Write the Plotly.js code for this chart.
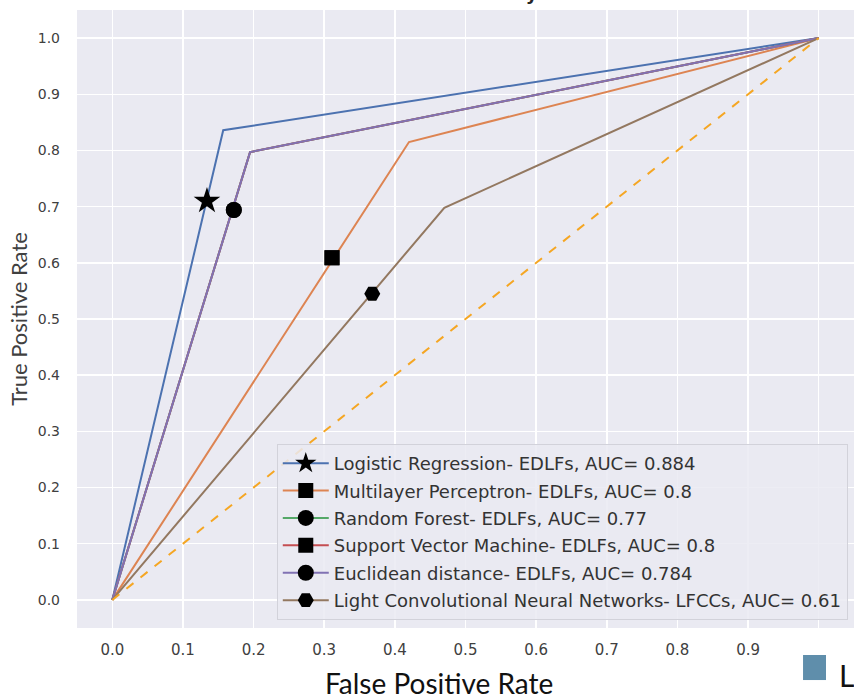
<!DOCTYPE html>
<html>
<head>
<meta charset="utf-8">
<script src="https://cdn.plot.ly/plotly-3.0.1.min.js"></script>
<style>html,body{margin:0;padding:0;background:#fff;}#chart{width:854px;height:698px;}</style>
</head>
<body>
<div id="chart"></div>
<script>
// ROC curve points (FPR, TPR)
const fprLR = [0, 0.157, 1];
const tprLR = [0, 0.836, 1];
const fprMLP = [0, 0.42, 1];
const tprMLP = [0, 0.815, 1];
const fprRF = [0, 0.195, 1];
const tprRF = [0, 0.797, 1];
const fprSVM = [0, 0.195, 1];
const tprSVM = [0, 0.797, 1];
const fprED = [0, 0.195, 1];
const tprED = [0, 0.797, 1];
const fprLCNN = [0, 0.47, 1];
const tprLCNN = [0, 0.698, 1];
const chanceX = [0, 1];
const chanceY = [0, 1];

// operating-point markers
const opX = [0.134, 0.311, 0.172, 0.311, 0.172, 0.368];
const opY = [0.710, 0.609, 0.694, 0.609, 0.694, 0.545];

const names = [
  "Logistic Regression- EDLFs, AUC= 0.884",
  "Multilayer Perceptron- EDLFs, AUC= 0.8",
  "Random Forest- EDLFs, AUC= 0.77",
  "Support Vector Machine- EDLFs, AUC= 0.8",
  "Euclidean distance- EDLFs, AUC= 0.784",
  "Light Convolutional Neural Networks- LFCCs, AUC= 0.61"
];

const xTickVals = [0, 0.1, 0.2, 0.3, 0.4, 0.5, 0.6, 0.7, 0.8, 0.9, 1.0];
const xTickText = ["0.0", "0.1", "0.2", "0.3", "0.4", "0.5", "0.6", "0.7", "0.8", "0.9", ""];
const yTickVals = [0, 0.1, 0.2, 0.3, 0.4, 0.5, 0.6, 0.7, 0.8, 0.9, 1.0];
const yTickText = ["0.0", "0.1", "0.2", "0.3", "0.4", "0.5", "0.6", "0.7", "0.8", "0.9", "1.0"];

const colors = ["#4c72b0", "#dd8452", "#55a868", "#c44e52", "#8172b3", "#937860"];
const symbols = ["star", "square", "circle", "square", "circle", "hexagon2"];
const sizes = [20, 15, 16, 15, 16, 16];
const curvesX = [fprLR, fprMLP, fprRF, fprSVM, fprED, fprLCNN];
const curvesY = [tprLR, tprMLP, tprRF, tprSVM, tprED, tprLCNN];

const traces = [];
for (let i = 0; i < 6; i++) {
  traces.push({
    x: curvesX[i], y: curvesY[i], type: "scatter", mode: "lines",
    line: {color: colors[i], width: 2}, showlegend: false, hoverinfo: "skip",
    legendgroup: "g" + i
  });
}
traces.push({
  x: chanceX, y: chanceY, type: "scatter", mode: "lines",
  line: {color: "#f5a623", width: 2, dash: "dash"}, showlegend: false
});
for (let i = 0; i < 6; i++) {
  traces.push({
    x: [opX[i]], y: [opY[i]], type: "scatter", mode: "lines+markers",
    name: names[i], legendgroup: "g" + i,
    line: {color: colors[i], width: 2},
    marker: {symbol: symbols[i], size: sizes[i], color: "#000000", line: {width: 0}}
  });
}

const layout = {
  width: 854, height: 698,
  margin: {l: 77, r: 0, t: 10, b: 70},
  paper_bgcolor: "#ffffff",
  plot_bgcolor: "#eaeaf2",
  font: {family: "DejaVu Sans", color: "#262626"},
  showlegend: true,
  legend: {
    x: 0.992, xanchor: "right", y: 0.013, yanchor: "bottom",
    bgcolor: "rgba(234,234,242,0.85)", bordercolor: "#d2d2da", borderwidth: 1,
    font: {family: "DejaVu Sans", size: 18, color: "#333333"},
    traceorder: "grouped", tracegroupgap: 1, itemwidth: 46
  },
  xaxis: {
    range: [-0.05, 1.05], tickvals: xTickVals, ticktext: xTickText,
    showgrid: true, gridcolor: "#ffffff", gridwidth: 1.5, zeroline: false,
    showline: false, ticks: "", ticklabelstandoff: 11,
    tickfont: {family: "DejaVu Sans", size: 15, color: "#404040"}
  },
  yaxis: {
    range: [-0.05, 1.05], tickvals: yTickVals, ticktext: yTickText,
    showgrid: true, gridcolor: "#ffffff", gridwidth: 1.5, zeroline: false,
    showline: false, ticks: "", ticklabelstandoff: 16,
    tickfont: {family: "DejaVu Sans", size: 14, color: "#404040"},
    title: {text: "True Positive Rate", font: {family: "Lato", size: 22, color: "#404040"}, standoff: 4}
  },
  annotations: [
    {text: "False Positive Rate", xref: "paper", yref: "paper", x: 0.466, y: -0.089,
     xanchor: "center", yanchor: "middle", showarrow: false,
     font: {family: "Lato", size: 28, color: "#111111"}},
    {text: "ROC Curve Analysis", xref: "paper", yref: "paper", x: 0.5, y: 1.0058,
     xanchor: "center", yanchor: "bottom", showarrow: false,
     font: {family: "DejaVu Sans", size: 18, color: "#262626", weight: "bold"}},
    {text: "L", xref: "paper", yref: "paper", x: 1.0, y: -0.043,
     xanchor: "left", yanchor: "top", xshift: -17, showarrow: false,
     font: {family: "Lato", size: 30, color: "#111111"}}
  ],
  shapes: [
    {type: "rect", xref: "paper", yref: "paper", x0: 0.9344, x1: 0.9640, y0: -0.0437, y1: -0.0842,
     fillcolor: "#5f8eab", line: {width: 0}}
  ]
};

Plotly.newPlot("chart", traces, layout, {displayModeBar: false, staticPlot: true});
</script>
</body>
</html>
